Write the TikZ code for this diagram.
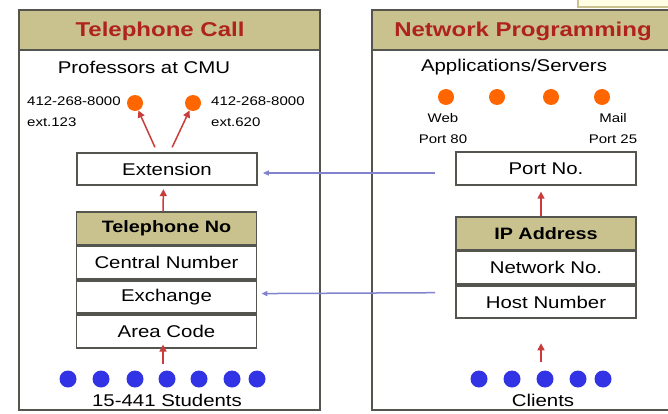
\documentclass[tikz,border=0pt]{standalone}
\usepackage{fontspec}
\setmainfont{Liberation Sans}[FakeStretch=1.2]
\usetikzlibrary{positioning,arrows.meta}
\definecolor{hdrkhaki}{RGB}{201,194,143}
\definecolor{framegray}{RGB}{85,85,80}
\definecolor{titlered}{RGB}{175,35,30}
\definecolor{srvorange}{RGB}{255,102,0}
\definecolor{cliblue}{RGB}{51,51,230}
\definecolor{linkblue}{RGB}{130,130,205}
\definecolor{uparrow}{RGB}{200,60,60}
\definecolor{creambox}{RGB}{255,253,228}

\begin{document}
\begin{tikzpicture}[x=1pt, y=-1pt, every node/.style={font=\fontsize{17}{19}\selectfont}]
  \tikzset{
      panel/.style={draw=framegray, line width=2pt, fill=white},
      banner/.style={draw=framegray, line width=2pt, fill=hdrkhaki, minimum width=301pt, minimum height=40pt},
      title/.style={text=titlered, font=\fontsize{20}{22}\selectfont\bfseries},
      field/.style={draw=framegray, line width=1.8pt, fill=white, minimum width=180pt, minimum height=32.5pt, inner sep=0pt},
      fieldhead/.style={field, fill=hdrkhaki, font=\fontsize{16.5}{18}\selectfont\bfseries},
      server/.style={circle, fill=srvorange, minimum size=16pt, inner sep=0pt},
      client/.style={circle, fill=cliblue, minimum size=17pt, inner sep=0pt},
      tag/.style={inner sep=0pt, font=\fontsize{12.5}{21}\selectfont},
      uparr/.style={draw=uparrow, line width=1.5pt, -{Triangle[length=7pt,width=7pt]}},
      link/.style={draw=linkblue, line width=1.5pt, -{Triangle[length=6pt,width=5pt]}}
  }
  \clip (0,0) rectangle (668,414);

  % corner of a box cut off at the top right
  \draw[draw=hdrkhaki, line width=2pt, fill=creambox] (578,-6) rectangle (690,7);

  % left side: telephone call
  \draw[panel] (19,10) rectangle (320,410);
  \node[banner] (callhead) at (169.5,30) {};
  \node[title] (calltitle) at (160,31) {Telephone Call};
  \node (profs) at (144,67) {Professors at CMU};
  \node[server] (prof1) at (135,103) {};
  \node[server] (prof2) at (193,103) {};
  \node[tag, align=left, anchor=west] (num1) at (27,111.5) {412-268-8000\\ext.123};
  \node[tag, align=left, anchor=west] (num2) at (211,111.5) {412-268-8000\\ext.620};
  \node[field] (ext) at (167,169) {Extension};
  \node[fieldhead] (telno) at (166.5,228.5) {Telephone No};
  \node[field, below=0pt of telno] (central) {Central Number};
  \node[field, below=0pt of central] (exch) {Exchange};
  \node[field, below=0pt of exch] (area) {Area Code};
  \foreach \x [count=\i] in {68,101,135,167,199,232,257}
      \node[client] (s\i) at (\x,379) {};
  \node (students) at (167,400) {15-441 Students};

  % right side: network programming
  \draw[panel] (372,10) rectangle (690,410);
  \node[banner] (nethead) at (522.5,30) {};
  \node[title] (nettitle) at (523,31) {Network Programming};
  \node (apps) at (514,67) {Applications/Servers};
  \foreach \x [count=\i] in {446,497,551,602}
      \node[server] (app\i) at (\x,97) {};
  \node[tag, align=center] (web) at (443,129) {Web\\Port 80};
  \node[tag, align=center] (mail) at (613,129) {Mail\\Port 25};
  \node[field] (port) at (546,168.5) {Port No.};
  \node[fieldhead] (ip) at (546,233.5) {IP Address};
  \node[field, below=0pt of ip] (netno) {Network No.};
  \node[field, below=0pt of netno] (host) {Host Number};
  \foreach \x [count=\i] in {479,512,545,578,603}
      \node[client] (c\i) at (\x,379) {};
  \node (clients) at (543,400) {Clients};

  % arrows
  \draw[uparr, shorten <=5pt] ([xshift=-10pt]ext.north) -- (prof1);
  \draw[uparr, shorten <=5pt] ([xshift=3pt]ext.north) -- (prof2);
  \draw[uparr, shorten >=3pt] ([xshift=-3.5pt]telno.north) -- ([xshift=-3.5pt]ext.south);
  \draw[uparr, shorten <=6pt, shorten >=-4pt] ([xshift=-4pt]s4.north) -- ([xshift=-3.5pt]area.south);
  \draw[uparr, shorten >=6pt] ([xshift=-5pt]ip.north) -- ([xshift=-5pt]port.south);
  \draw[uparr, shorten <=8pt, shorten >=24pt] ([xshift=-4pt]c3.north) -- ([xshift=-5pt]host.south);

  \draw[link, shorten <=20pt, shorten >=5pt] ([yshift=-4.5pt]port.west) -- ([yshift=-4pt]ext.east);
  \draw[link, shorten <=20pt, shorten >=4pt] ([yshift=9.5pt]host.west) -- ([yshift=3.5pt]exch.east);
\end{tikzpicture}
\end{document}
